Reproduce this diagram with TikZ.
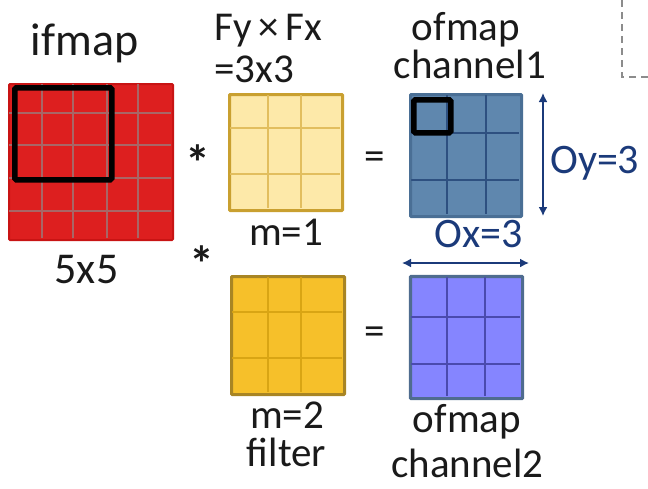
\documentclass[tikz,border=0pt]{standalone}
\usepackage{fontspec}
\setmainfont{Carlito}
\usetikzlibrary{arrows.meta}
\definecolor{redfill}{HTML}{DD1F1F}
\definecolor{redborder}{HTML}{C81414}
\definecolor{redline}{HTML}{A86666}
\definecolor{lyfill}{HTML}{FDE9A9}
\definecolor{lyline}{HTML}{E2BE5E}
\definecolor{lyborder}{HTML}{C9A030}
\definecolor{dyfill}{HTML}{F6C02A}
\definecolor{dyline}{HTML}{D9A514}
\definecolor{dyborder}{HTML}{A88524}
\definecolor{b1fill}{HTML}{5F87AE}
\definecolor{b1line}{HTML}{2E5080}
\definecolor{b1border}{HTML}{4A6F95}
\definecolor{b2fill}{HTML}{8585FF}
\definecolor{b2line}{HTML}{4A4AAE}
\definecolor{b2border}{HTML}{4F6C8F}
\definecolor{navy}{HTML}{1B3A7A}
\definecolor{ink}{HTML}{1A1A1A}
\tikzset{
  gridbox/.style={anchor=north west, inner sep=0pt, line width=2pt, rounded corners=1pt},
  lbl/.style={anchor=base, inner sep=0pt, text=ink, font=\fontsize{41}{43}\selectfont},
  biglbl/.style={lbl, font=\fontsize{46}{48}\selectfont},
  midlbl/.style={lbl, font=\fontsize{44}{46}\selectfont},
  navylbl/.style={lbl, text=navy, font=\fontsize{42}{44}\selectfont},
  oplbl/.style={lbl, font=\fontsize{50}{50}\bfseries\selectfont},
  dimarrow/.style={draw=navy, line width=1.6pt, {Latex[length=9pt,width=9pt]}-{Latex[length=9pt,width=9pt]}},
  winbox/.style={draw=black, line width=5.5pt, rounded corners=1.5pt, anchor=north west, inner sep=0pt},
  gline/.style={line width=1.8pt}
}
\begin{document}
\begin{tikzpicture}[x=1pt,y=-1pt]
\useasboundingbox (0,0) rectangle (648,488);
% ifmap 5x5
\node[gridbox, draw=redborder, fill=redfill, minimum width=164pt, minimum height=156pt] (ifm) at (8,83) {};
\foreach \x in {42,73,107,138} \draw[gline, redline] (\x,84) -- (\x,238);
\foreach \y in {113,145,178,211} \draw[gline, redline] (9,\y) -- (171,\y);
\node[winbox, minimum width=97pt, minimum height=92pt] (win) at (12,85) {};
% light filter
\node[gridbox, draw=lyborder, fill=lyfill, minimum width=112pt, minimum height=115pt] (f1) at (229,94) {};
\foreach \x in {268,301} \draw[gline, lyline] (\x,95) -- (\x,208);
\foreach \y in {128,174} \draw[gline, lyline] (230,\y) -- (340,\y);
\draw[line width=2pt, lyborder, rounded corners=1pt] (f1.north west) rectangle (f1.south east);
% dark filter
\node[gridbox, draw=dyborder, fill=dyfill, minimum width=112pt, minimum height=117pt] (f2) at (231,276) {};
\foreach \x in {268,301} \draw[gline, dyline] (\x,277) -- (\x,392);
\foreach \y in {312,358} \draw[gline, dyline] (232,\y) -- (342,\y);
\draw[line width=2pt, dyborder, rounded corners=1pt] (f2.north west) rectangle (f2.south east);
% ofmap 1
\node[gridbox, draw=b1border, fill=b1fill, minimum width=110pt, minimum height=121pt] (o1) at (410,94) {};
\foreach \x in {447,486} \draw[gline, b1line] (\x,95) -- (\x,214);
\foreach \y in {133,180} \draw[gline, b1line] (411,\y) -- (519,\y);
\draw[line width=2pt, b1border, rounded corners=1pt] (o1.north west) rectangle (o1.south east);
\node[winbox, minimum width=37pt, minimum height=33pt] (owin) at (411,97) {};
% ofmap 2
\node[gridbox, draw=b2border, fill=b2fill, minimum width=111pt, minimum height=121pt] (o2) at (410,276) {};
\foreach \x in {447,485} \draw[gline, b2line] (\x,277) -- (\x,396);
\foreach \y in {317,364} \draw[gline, b2line] (411,\y) -- (520,\y);
\draw[line width=2.2pt, b2border, rounded corners=1pt] (o2.north west) rectangle (o2.south east);
% dimension arrows
\coordinate (oyt) at (543,93);
\coordinate (oyb) at (543,216);
\draw[dimarrow] (oyt) -- (oyb);
\coordinate (oxl) at (402,263);
\coordinate (oxr) at (529,263);
\draw[dimarrow] (oxl) -- (oxr);
% dashed corner
\coordinate (d1) at (622,0);
\coordinate (d2) at (622,77);
\coordinate (d3) at (648,77);
\draw[black!45, line width=1.3pt, dash pattern=on 7pt off 5pt] (d1) -- (d2) -- (d3);
% labels
\node[biglbl] (tifmap) at (84.5,55) {ifmap};
\node[midlbl] (t55) at (86.5,283) {5x5};
\node[lbl, anchor=base west] (tfyfx) at (214,40) {Fy\,×\,Fx};
\node[lbl, anchor=base west] (t33) at (214,82) {=3x3};
\node[lbl] (tofm1) at (466,40) {ofmap};
\node[lbl] (tch1) at (470,78) {channel1};
\node[lbl] (tm1) at (286,245) {m=1};
\node[lbl] (tm2) at (287,428) {m=2};
\node[lbl] (tfilter) at (286.5,466) {filter};
\node[lbl] (tofm2) at (467,432) {ofmap};
\node[lbl] (tch2) at (467.5,477) {channel2};
\node[navylbl] (tox) at (478.5,247) {Ox=3};
\node[navylbl, anchor=base west] (toy) at (550,173) {Oy=3};
\node[oplbl] (ast1) at (197.5,180) {*};
\node[oplbl] (ast2) at (202,281) {*};
\node[lbl] (eq1) at (374.5,169) {=};
\node[lbl] (eq2) at (374.5,344) {=};
\end{tikzpicture}
\end{document}
